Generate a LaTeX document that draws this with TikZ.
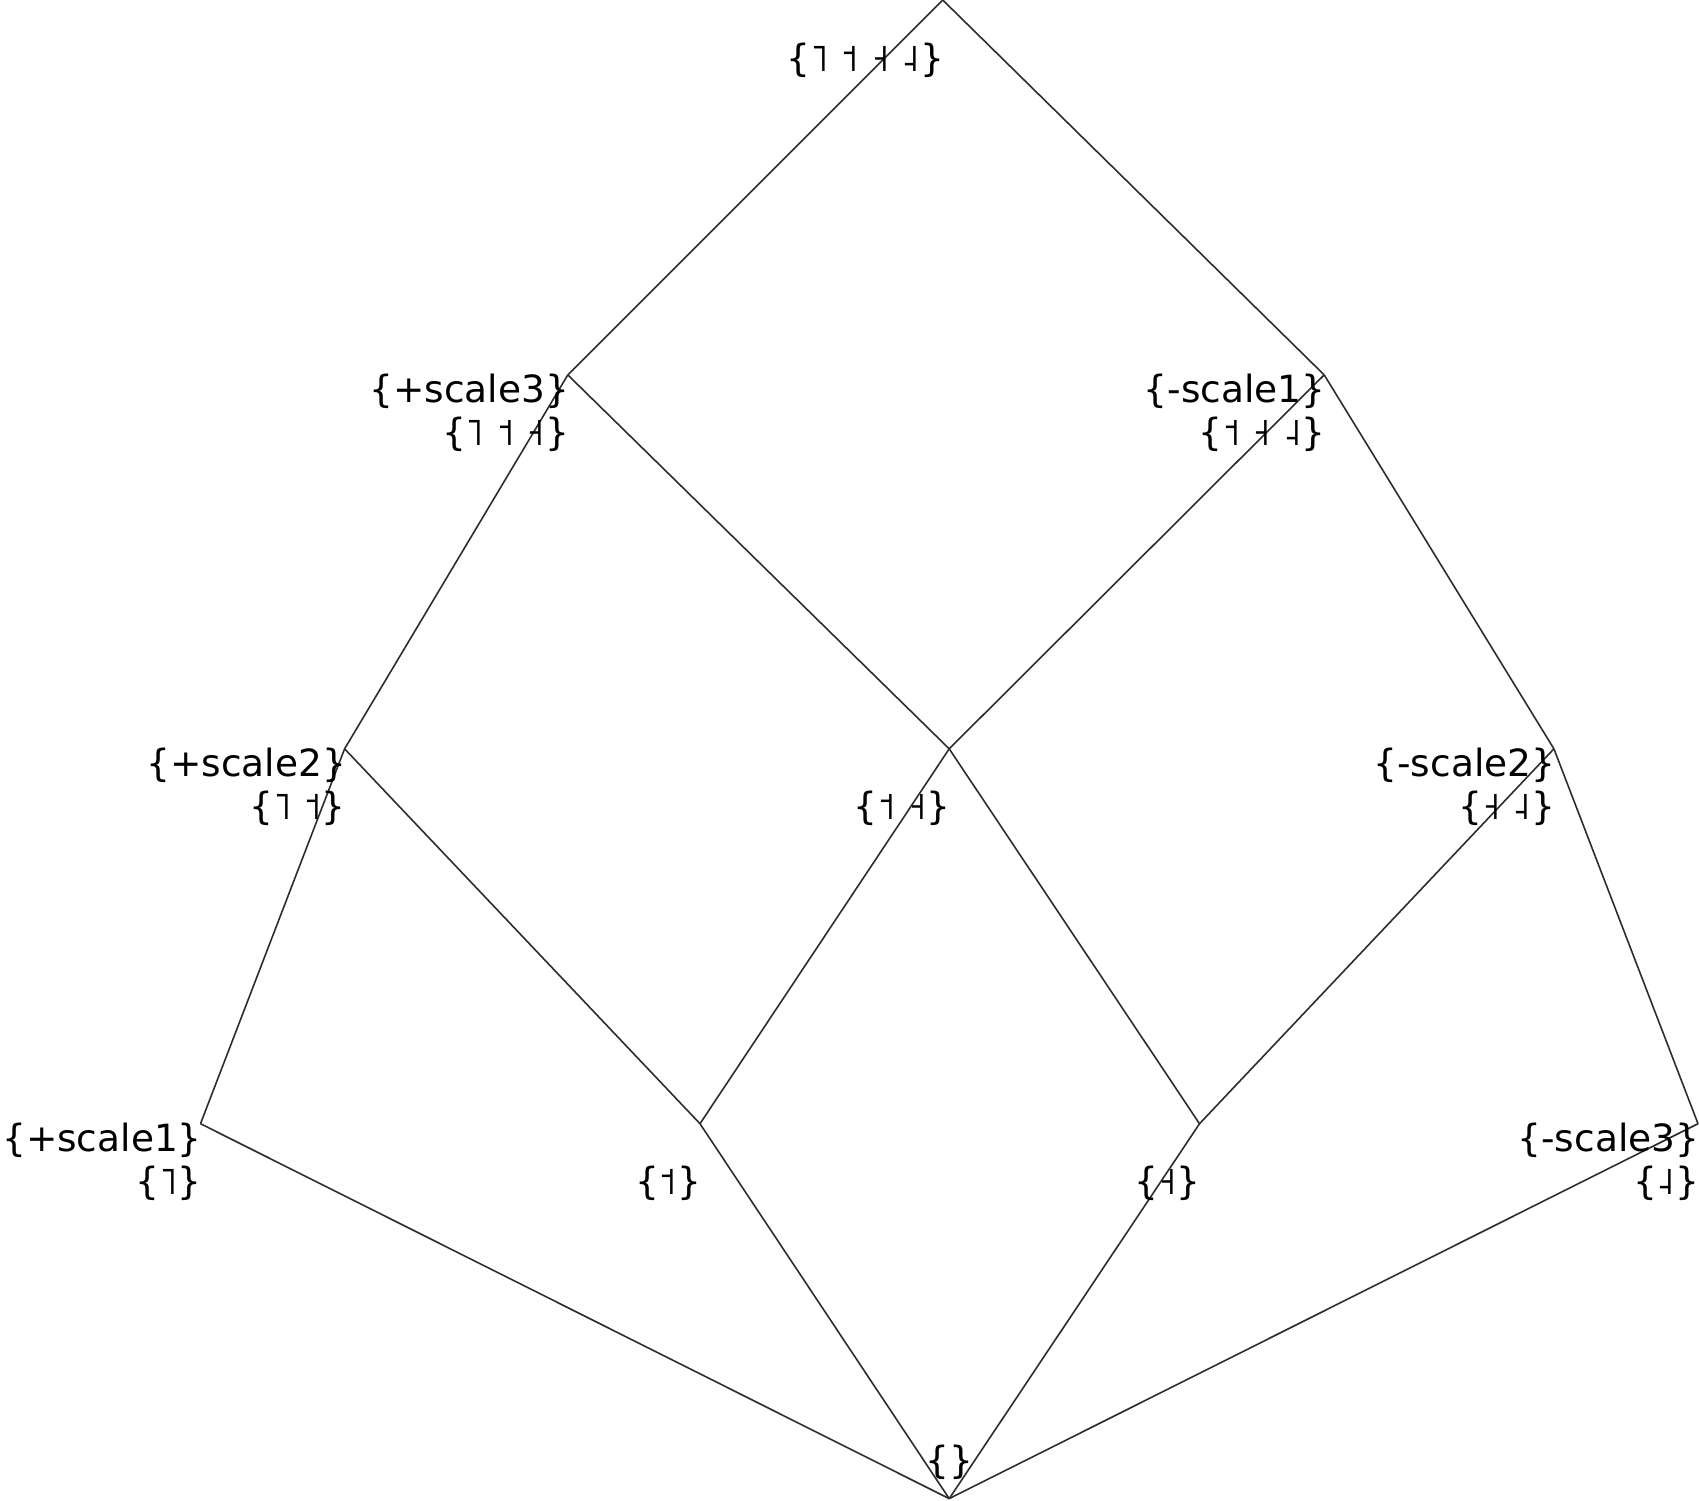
\documentclass[tikz,border=0pt]{standalone}
\usepackage{fontspec}
\setmainfont{DejaVu Sans}
\usetikzlibrary{positioning,calc}
\definecolor{LineGray}{RGB}{45,45,45}
\tikzset{
	cover/.style={draw=LineGray,line width=1.6pt},
	lbl/.style={inner sep=0pt,font=\fontsize{37.5}{45}\selectfont},
	intl/.style={lbl,anchor=base east,xshift=1.5pt,yshift=-28pt},
	extl/.style={lbl,anchor=base east,xshift=1.5pt,yshift=-71pt},
}

\begin{document}
\begin{tikzpicture}[x=1pt,y=-1pt]
	\useasboundingbox (0,0) rectangle (1699,1500);
	% lattice points, top to bottom
	\coordinate (top) at (942.7,0);
	\coordinate (p3) at (567.8,374.9);
	\coordinate (m1) at (1324.2,374.9);
	\coordinate (p2) at (344.6,748.8);
	\coordinate (mid) at (949.2,748.8);
	\coordinate (m2) at (1553.9,748.8);
	\coordinate (p1) at (200.5,1123.7);
	\coordinate (hi) at (700,1123.7);
	\coordinate (lo) at (1199.5,1123.7);
	\coordinate (m3) at (1698,1123.7);
	\coordinate (bot) at (949.2,1498.6);
	\foreach \a/\b in {top/p3,top/m1,p3/p2,p3/mid,m1/mid,m1/m2,
		p2/p1,p2/hi,mid/hi,mid/lo,m2/lo,m2/m3,p1/bot,hi/bot,lo/bot,m3/bot}
	\draw[cover] (\a)--(\b);
	% intents
	\node[intl] (lp3) at (p3) {\{+scale3\}};
	\node[intl] (lm1) at (m1) {\{-scale1\}};
	\node[intl] (lp2) at (p2) {\{+scale2\}};
	\node[intl] (lm2) at (m2) {\{-scale2\}};
	\node[intl] (lp1) at (p1) {\{+scale1\}};
	\node[intl] (lm3) at (m3) {\{-scale3\}};
	% extents
	\node[extl] (etop) at (top) {\{˥ ˦ ˧ ˨\}};
	\node[extl] (ep3) at (p3) {\{˥ ˦ ˧\}};
	\node[extl] (em1) at (m1) {\{˦ ˧ ˨\}};
	\node[extl] (ep2) at (p2) {\{˥ ˦\}};
	\node[extl] (emid) at (mid) {\{˦ ˧\}};
	\node[extl] (em2) at (m2) {\{˧ ˨\}};
	\node[extl] (ep1) at (p1) {\{˥\}};
	\node[extl] (ehi) at (hi) {\{˦\}};
	\node[extl] (elo) at (lo) {\{˧\}};
	\node[extl] (em3) at (m3) {\{˨\}};
	\node[lbl,anchor=base,yshift=25pt] (ebot) at (bot) {\{\}};
\end{tikzpicture}
\end{document}
